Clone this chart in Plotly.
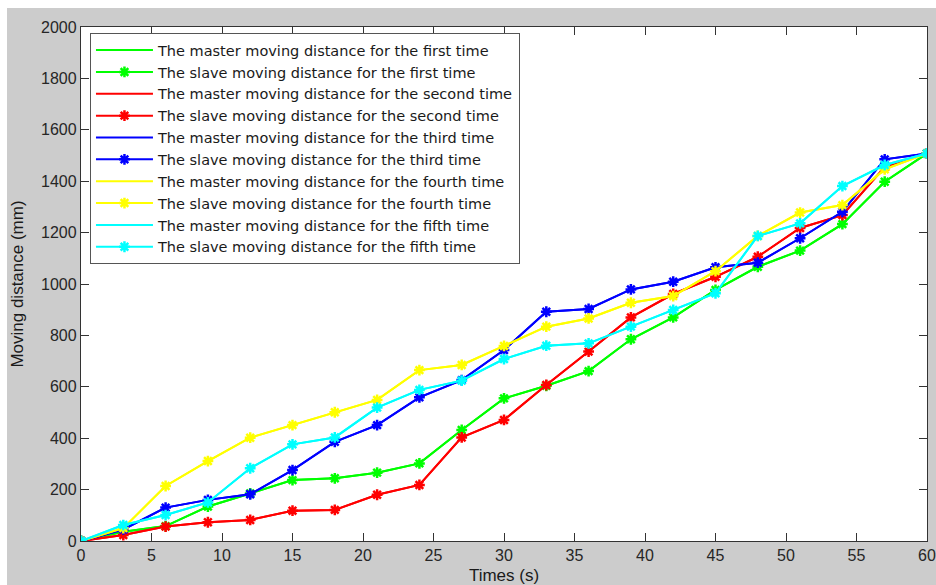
import plotly.graph_objects as go

times = [0, 3, 6, 9, 12, 15, 18, 21, 24, 27, 30, 33, 36, 39, 42, 45, 48, 51, 54, 57, 60]

slave_first = [0, 36, 58, 134, 185, 237, 244, 266, 302, 432, 555, 604, 661, 785, 870, 977, 1067, 1130, 1233, 1398, 1508]
slave_second = [0, 23, 56, 73, 82, 118, 121, 180, 218, 403, 471, 607, 737, 870, 961, 1028, 1106, 1218, 1268, 1455, 1508]
slave_third = [0, 45, 130, 160, 182, 276, 386, 451, 559, 626, 743, 892, 903, 979, 1009, 1065, 1083, 1178, 1281, 1485, 1508]
slave_fourth = [0, 50, 214, 311, 402, 451, 501, 549, 665, 685, 759, 834, 866, 927, 953, 1050, 1187, 1278, 1307, 1446, 1508]
slave_fifth = [0, 62, 101, 150, 283, 376, 403, 519, 588, 624, 708, 760, 769, 834, 899, 964, 1187, 1236, 1381, 1463, 1508]

master_first = [0, 36, 58, 134, 185, 237, 244, 266, 302, 432, 555, 604, 661, 785, 870, 977, 1067, 1130, 1233, 1398, 1508]
master_second = [0, 23, 56, 73, 82, 118, 121, 180, 218, 403, 471, 607, 737, 870, 961, 1028, 1106, 1218, 1268, 1455, 1508]
master_third = [0, 45, 130, 160, 182, 276, 386, 451, 559, 626, 743, 892, 903, 979, 1009, 1065, 1083, 1178, 1281, 1485, 1508]
master_fourth = [0, 50, 214, 311, 402, 451, 501, 549, 665, 685, 759, 834, 866, 927, 953, 1050, 1187, 1278, 1307, 1446, 1508]
master_fifth = [0, 62, 101, 150, 283, 376, 403, 519, 588, 624, 708, 760, 769, 834, 899, 964, 1187, 1236, 1381, 1463, 1508]

ordinals = ["first", "second", "third", "fourth", "fifth"]
colors = ["#00ff00", "#ff0000", "#0000ff", "#ffff00", "#00ffff"]
masters = [master_first, master_second, master_third, master_fourth, master_fifth]
slaves = [slave_first, slave_second, slave_third, slave_fourth, slave_fifth]

x_ticks = list(range(0, 61, 5))
y_ticks = list(range(0, 2001, 200))

fig = go.Figure()
for i, (ordn, col, m, s) in enumerate(zip(ordinals, colors, masters, slaves)):
    fig.add_trace(go.Scatter(
        x=times, y=m, mode="lines",
        line=dict(color=col, width=2),
        name=f"The master moving distance for the {ordn} time",
        legendgroup=f"m{i}",
    ))
    fig.add_trace(go.Scatter(
        x=times, y=s, mode="lines+markers",
        line=dict(color=col, width=2),
        marker=dict(symbol="asterisk-open", size=9, color=col,
                    line=dict(color=col, width=2.5)),
        name=f"The slave moving distance for the {ordn} time",
        legendgroup=f"s{i}",
    ))

axis_common = dict(
    showline=True, linecolor="#333333", linewidth=1.3, mirror="ticks",
    ticks="inside", ticklen=8, tickcolor="#333333", tickwidth=1.3,
    showgrid=False, zeroline=False, automargin=False,
    tickfont=dict(family="Liberation Sans, Arial, sans-serif", size=16, color="#262626"),
)

fig.update_layout(
    width=936, height=585,
    margin=dict(l=81, r=9, t=27, b=44),
    paper_bgcolor="#cccccc",
    plot_bgcolor="#ffffff",
    font=dict(family="Liberation Sans, Arial, sans-serif", color="#1a1a1a"),
    xaxis=dict(range=[0, 60], tickvals=x_ticks,
               title=dict(text="Times (s)", font=dict(size=17), standoff=7),
               **axis_common),
    yaxis=dict(range=[0, 2000], tickvals=y_ticks,
               title=dict(text="Moving distance (mm)", font=dict(size=17), standoff=13),
               **axis_common),
    legend=dict(
        x=0.0106, y=0.988, xanchor="left", yanchor="top",
        bgcolor="#ffffff", bordercolor="#555555", borderwidth=1,
        font=dict(family="DejaVu Sans, sans-serif", size=14.5, color="#1a1a1a"),
        traceorder="grouped", tracegroupgap=0, itemwidth=57,
    ),
    showlegend=True,
    shapes=[
        dict(type="rect", xref="paper", yref="paper", x0=-0.2, x1=1.1,
             y0=(541 - 8) / 514, y1=1.2, fillcolor="#ffffff", line=dict(width=0), layer="below"),
        dict(type="rect", xref="paper", yref="paper", x0=-0.2, x1=(7 - 81) / 846,
             y0=-0.2, y1=1.2, fillcolor="#ffffff", line=dict(width=0), layer="below"),
    ],
)

fig.write_html("out.html")
